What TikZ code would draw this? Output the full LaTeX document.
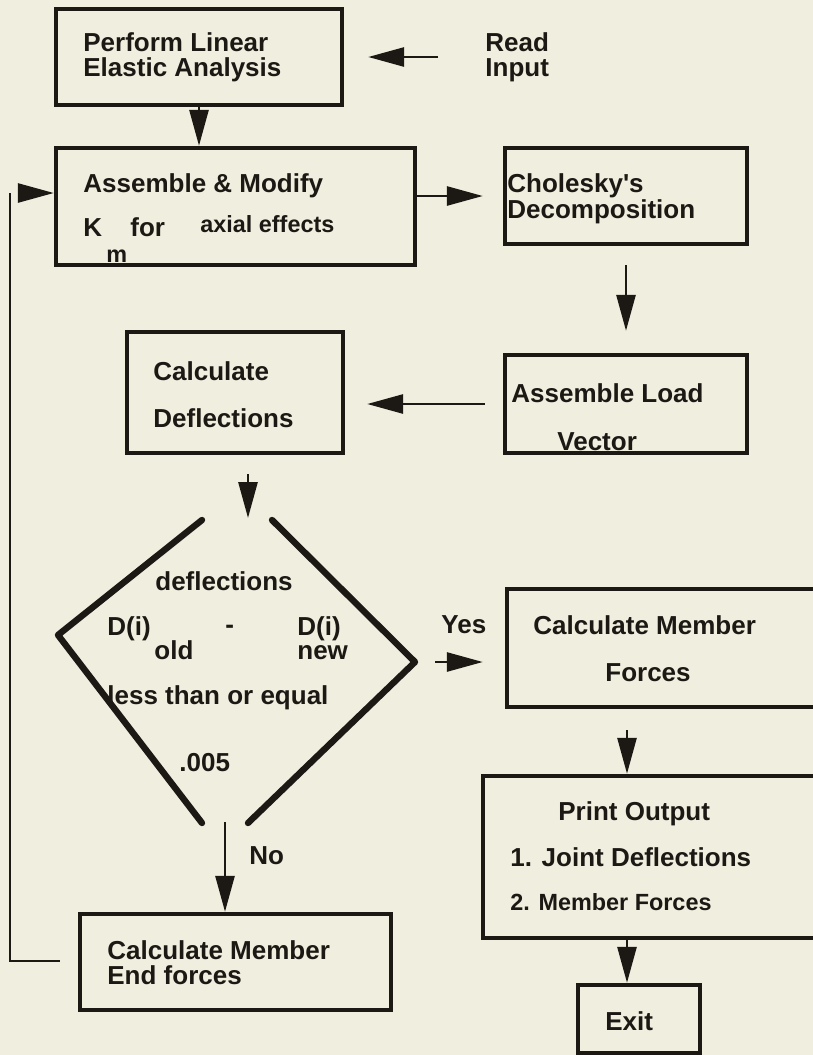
\documentclass[tikz,border=0pt]{standalone}
\usepackage{fontspec}
\setmainfont{Liberation Sans}
\usetikzlibrary{arrows.meta, fit, positioning}
\definecolor{paper}{RGB}{240,238,223}
\definecolor{ink}{RGB}{28,24,20}

\begin{document}
\begin{tikzpicture}[x=0.5pt, y=-0.5pt,
  box/.style={draw=ink, line width=2.2pt, inner sep=0pt, fit={#1}},
  txt/.style={anchor=base west, inner sep=0pt, text=ink, font=\fontsize{13}{13}\selectfont\bfseries},
  small/.style={txt, font=\fontsize{11.7}{12}\selectfont\bfseries},
  flow/.style={draw=ink, line width=1.4pt, -{Triangle[length=18pt, width=9.5pt]}},
  wire/.style={draw=ink, line width=1.4pt},
  rim/.style={draw=ink, line width=3.2pt, line cap=round, line join=round}]

\useasboundingbox (0,0) rectangle (813,1055);
\clip (0,0) rectangle (813,1055);
\fill[paper] (0,0) rectangle (813,1055);

% boxes
\node[box={(56,9) (342,105)}] (perf) {};
\node[box={(56,148) (415,265)}] (asm) {};
\node[box={(505,148) (747,244)}] (chol) {};
\node[box={(505,355) (747,453)}] (load) {};
\node[box={(127,332) (343,453)}] (defl) {};
\node[box={(507,589) (822,707)}] (cmf) {};
\node[box={(483,776) (822,938)}] (prt) {};
\node[box={(578,985) (700,1053)}] (ext) {};
\node[box={(80,914) (391,1010)}] (endf) {};

% texts
\node[txt] (perf1) at (83,51) {Perform Linear};
\node[txt] (perf2) at (83,76) {Elastic Analysis};
\node[txt] (read1) at (485,51) {Read};
\node[txt] (read2) at (485,76) {Input};
\node[txt] (asm1) at (83,192) {Assemble \& Modify};
\node[txt] (asm2) at (83,236) {K};
\node[txt] (asm3) at (130,236) {for};
\node[small] (asm4) at (200,232) {axial effects};
\node[small] (asm5) at (106,262) {m};
\node[txt] (chol1) at (507,192) {Cholesky\textquotesingle s};
\node[txt] (chol2) at (507,218) {Decomposition};
\node[txt] (load1) at (511,402) {Assemble Load};
\node[txt] (load2) at (557,450) {Vector};
\node[txt] (defl1) at (153,380) {Calculate};
\node[txt] (defl2) at (153,427) {Deflections};
\node[txt] (tst1) at (155,590) {deflections};
\node[txt] (tst2) at (107,635) {D(i)};
\node[txt] (tst3) at (154,659) {old};
\node[txt] (tst4) at (225,633) {-};
\node[txt] (tst5) at (297,635) {D(i)};
\node[txt] (tst6) at (297,659) {new};
\node[txt] (tst7) at (107,704) {less than or equal};
\node[txt] (tst8) at (179,771) {.005};
\node[txt] (yes) at (441,633) {Yes};
\node[txt] (no) at (249,864) {No};
\node[txt] (cmf1) at (533,634) {Calculate Member};
\node[txt] (cmf2) at (605,681) {Forces};
\node[txt] (prt1) at (558,820) {Print Output};
\node[txt] (prt2) at (510,866) {1. Joint Deflections};
\node[small] (prt3) at (510,910) {2. Member Forces};
\node[txt] (ext1) at (605,1030) {Exit};
\node[txt] (endf1) at (107,959) {Calculate Member};
\node[txt] (endf2) at (107,984) {End forces};

% test
\coordinate (dtop) at (248,518);
\coordinate (dright) at (415,662);
\coordinate (dbot) at (225,822);
\draw[rim] (202,520) -- (58,635) -- (202,823);
\draw[rim] (272,520) -- (dright) -- (248,823);

% arrows
\coordinate (rdin) at (438,57);
\draw[flow, shorten >=12pt] (rdin) -- (perf.east);
\draw[flow] (perf.south) -- (perf.south |- asm.north);
\draw[flow, shorten >=10pt] (asm.east |- chol.west) -- (chol.west);
\draw[flow, shorten <=9.5pt, shorten >=11pt] (chol.south) -- (load.north);
\draw[flow, shorten <=9pt, shorten >=11pt] (load.west) -- (load.west -| defl.east);
\draw[flow, shorten <=9.5pt] (dtop |- defl.south) -- (dtop);
\draw[flow, shorten <=10pt, shorten >=11pt] (dright) -- (dright -| cmf.west);
\draw[flow] (dbot) -- (dbot |- endf.north);
\coordinate (col) at (627,0);
\draw[flow, shorten <=10.5pt] (col |- cmf.south) -- (col |- prt.north);
\draw[flow] (col |- prt.south) -- (col |- ext.north);

% loop back
\coordinate (fb) at (60,961);
\coordinate (fbtop) at (10,193);
\draw[wire] (fb) -| (fbtop);
\draw[flow] ([xshift=4.5pt]fbtop) -- (fbtop -| asm.west);

\end{tikzpicture}
\end{document}
